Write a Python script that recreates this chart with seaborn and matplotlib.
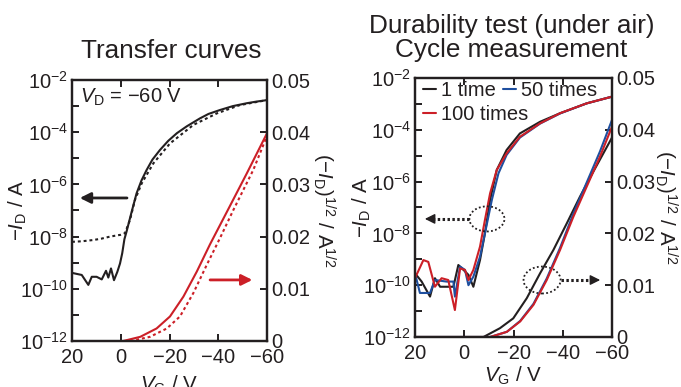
import numpy as np
import pandas as pd
import matplotlib
matplotlib.use("Agg")
import matplotlib.pyplot as plt
import seaborn as sns
from matplotlib.patches import Ellipse

# ---------------- data ----------------
# Left panel: transfer curves, log10(-I_D / A) and (-I_D)^1/2
vg_left_log_solid = [20, 16, 13.3, 11.9, 9.9, 7.8, 6.05, 5.1, 4.0, 2.77, 1.4, 0.3, -0.6, -1.5,
                     -2.4, -4.5, -6.5, -8.5, -10.6, -13, -16.1, -19.5, -23, -27, -32.5, -36,
                     -40.7, -46, -51.7, -55.5, -60]
exp_left_log_solid = [-9.39, -9.47, -9.85, -9.54, -9.54, -9.64, -9.31, -9.57, -9.22, -9.67, -9.35,
                      -9.03, -8.64, -8.1, -7.8, -7.04, -6.34, -5.85, -5.45, -5.05, -4.68, -4.33,
                      -4.04, -3.78, -3.47, -3.3, -3.15, -3.0, -2.89, -2.83, -2.77]
vg_left_log_dot = [20, 16, 11.2, 8, 4.4, 0, -1.7, -3.8, -5.8, -8.6, -13.4, -20.2, -29.8, -39.4,
                   -48.9, -60]
exp_left_log_dot = [-8.2, -8.18, -8.13, -8.08, -8.0, -7.93, -7.87, -7.36, -6.6, -5.96, -5.19,
                    -4.43, -3.72, -3.28, -2.96, -2.77]
vg_left_sqrt_solid = [-1, -8, -14.7, -20.2, -25.7, -31.2, -36.6, -43.5, -51.7, -60]
sqrt_left_solid = [0, 0.0008, 0.0024, 0.0047, 0.0085, 0.0133, 0.0185, 0.0247, 0.0321, 0.0398]
vg_left_sqrt_dot = [-4, -12, -18.9, -24.3, -29.8, -35.3, -40.7, -46.2, -54.4, -60]
sqrt_left_dot = [0, 0.0008, 0.0024, 0.0047, 0.0092, 0.0146, 0.0197, 0.0251, 0.0328, 0.0393]

# Right panel: cycle measurement (1, 50, 100 times)
vg_r1_log = [20, 17.3, 13.9, 11.9, 9.8, 4.4, 2.4, 0.3, -1.7, -3.7, -6.4, -8.4, -10.5, -13.2,
             -17.2, -22.6, -30.8, -38.9, -49.7, -60]
exp_r1_log = [-9.54, -9.86, -10.44, -9.73, -10.06, -10.06, -9.22, -9.41, -9.6, -10.06, -9.03,
              -8.0, -6.71, -5.55, -4.78, -4.14, -3.69, -3.36, -2.98, -2.72]
vg_r50_log = [20, 18, 13.9, 11.9, 7.2, 4.4, 3.8, 1.7, -0.3, -1.7, -3.7, -6.4, -8.4, -11.2, -13.9,
              -17.2, -22.6, -30.8, -38.9, -49.7, -60]
exp_r50_log = [-9.54, -10.3, -10.3, -9.8, -9.86, -9.86, -10.44, -9.28, -9.41, -10.0, -9.67, -8.9,
               -8.0, -6.71, -5.68, -4.97, -4.3, -3.76, -3.37, -2.98, -2.72]
vg_r100_log = [20, 16.6, 14.6, 11.9, 9.2, 6.5, 3.8, 1.7, -0.3, -1.7, -3.7, -6.4, -8.4, -10.5,
               -13.2, -17.2, -22.6, -30.8, -38.9, -49.7, -60]
exp_r100_log = [-9.73, -9.03, -9.1, -10.06, -9.73, -9.8, -10.96, -9.35, -9.41, -9.8, -9.41, -8.51,
                -7.48, -6.45, -5.55, -4.91, -4.27, -3.75, -3.36, -2.98, -2.72]

vg_r1_sqrt = [20, -7.8, -14.5, -19.9, -25.4, -30.8, -36.2, -41.6, -47, -52.4, -60]
sqrt_r1 = [0, 0, 0.0017, 0.0036, 0.0075, 0.0123, 0.0168, 0.0219, 0.0271, 0.0319, 0.0385]
vg_r50_sqrt = [20, -10.5, -17.3, -22.7, -28.1, -33.5, -38.9, -44.3, -49.7, -55.1, -60]
sqrt_r50 = [0, 0, 0.001, 0.0031, 0.0064, 0.0113, 0.0172, 0.0238, 0.0298, 0.0358, 0.0419]
vg_r100_sqrt = [20, -10.5, -17.3, -22.7, -28.1, -33.5, -38.9, -44.3, -49.7, -55.1, -60]
sqrt_r100 = [0, 0, 0.001, 0.003, 0.0062, 0.011, 0.0168, 0.0232, 0.029, 0.0348, 0.0406]

x_ticks = [20, 0, -20, -40, -60]
x_tick_labels = ["20", "0", "\u221220", "\u221240", "\u221260"]
log_exponents = [-12, -11, -10, -9, -8, -7, -6, -5, -4, -3, -2]
sqrt_ticks = [0, 0.01, 0.02, 0.03, 0.04, 0.05]
sqrt_tick_labels = ["0", "0.01", "0.02", "0.03", "0.04", "0.05"]
legend_labels = ["1 time", "50 times", "100 times"]

INK = "#231f20"
RED = "#cc1f27"
BLUE = "#1e4f9f"

# ---------------- style ----------------
sns.set_theme(style="ticks")
plt.rcParams.update({
    "font.family": ["Liberation Sans", "DejaVu Sans"],
    "mathtext.fontset": "custom",
    "mathtext.rm": "Liberation Sans",
    "mathtext.it": "Liberation Sans:italic",
    "mathtext.bf": "Liberation Sans:bold",
    "text.color": INK, "axes.labelcolor": INK,
    "xtick.color": INK, "ytick.color": INK, "axes.edgecolor": INK,
})

TICK_FS = 14.5
LABEL_FS = 14.8
LW = 1.5

fig = plt.figure(figsize=(6.81, 3.87), dpi=100)
W, H = 681, 387


def px_axes(x0, x1, ytop, ybot):
    return fig.add_axes([x0 / W, 1 - ybot / H, (x1 - x0) / W, (ybot - ytop) / H])


def style_axes(ax, ax2):
    ax.set_yscale("log")
    ax.set_xlim(20, -60)
    ax.set_ylim(1e-12, 1e-2)
    ax.set_xticks(x_ticks, x_tick_labels)
    yt = [10.0 ** e for e in log_exponents]
    ylab = [f"$10^{{{e}}}$" if e % 2 == 0 else "" for e in log_exponents]
    ax.set_yticks(yt, ylab)
    ax.yaxis.set_minor_locator(matplotlib.ticker.NullLocator())
    ax.tick_params(axis="both", which="major", direction="in", length=5, width=1.4,
                   labelsize=TICK_FS, pad=3)
    ax.tick_params(axis="x", top=True, pad=5)
    ax2.set_ylim(0, 0.05)
    ax2.set_yticks(sqrt_ticks, sqrt_tick_labels)
    ax2.tick_params(axis="y", direction="in", length=5, width=1.4, labelsize=TICK_FS, pad=3)
    for a in (ax, ax2):
        for s in a.spines.values():
            s.set_linewidth(1.6)
            s.set_color(INK)
    ax.set_ylabel("\u2212$I_\\mathrm{D}$ / A", fontsize=LABEL_FS, va="center")
    ax.set_xlabel("$V_\\mathrm{G}$ / V", fontsize=LABEL_FS, va="center")
    ax2.set_ylabel("(\u2212$I_\\mathrm{D}$)$^{1/2}$ / A$^{1/2}$", fontsize=LABEL_FS,
                   rotation=-90, va="center", ha="center")


def line(ax, x, y, color, ls="-", label=None):
    df = pd.DataFrame({"x": x, "y": y})
    sns.lineplot(data=df, x="x", y="y", ax=ax, color=color, lw=LW, linestyle=ls,
                 label=label, legend=False, sort=False, estimator=None)


DOT = (0, (1.4, 1.4))

# ---------------- left panel ----------------
axL = px_axes(72, 267, 80, 341)
axL2 = axL.twinx()
line(axL, vg_left_log_solid, [10.0 ** e for e in exp_left_log_solid], INK)
line(axL, vg_left_log_dot, [10.0 ** e for e in exp_left_log_dot], INK, DOT)
line(axL2, vg_left_sqrt_solid, sqrt_left_solid, RED)
line(axL2, vg_left_sqrt_dot, sqrt_left_dot, RED, DOT)
style_axes(axL, axL2)
axL.yaxis.set_label_coords((18 - 72) / 195, 0.5)
axL2.yaxis.set_label_coords((324 - 72) / 195, 0.5)
axL.xaxis.set_label_coords(0.5, (341 - 385) / 261)
axL.text(0.04, 0.935, "$V_\\mathrm{D}$ = \u221260 V", transform=axL.transAxes,
         fontsize=TICK_FS, va="center", ha="left")
axL.annotate("", xy=(0.04, 0.548), xytext=(0.282, 0.548), xycoords="axes fraction",
             arrowprops=dict(arrowstyle="-|>", color=INK, lw=2, mutation_scale=16,
                             shrinkA=0, shrinkB=0))
axL.annotate("", xy=(0.925, 0.234), xytext=(0.708, 0.234), xycoords="axes fraction",
             arrowprops=dict(arrowstyle="-|>", color=RED, lw=2, mutation_scale=16,
                             shrinkA=0, shrinkB=0))

# ---------------- right panel ----------------
axR = px_axes(415, 612, 78, 337)
axR2 = axR.twinx()
line(axR, vg_r1_log, [10.0 ** e for e in exp_r1_log], INK, label=legend_labels[0])
line(axR, vg_r50_log, [10.0 ** e for e in exp_r50_log], BLUE, label=legend_labels[1])
line(axR, vg_r100_log, [10.0 ** e for e in exp_r100_log], RED, label=legend_labels[2])
line(axR2, vg_r1_sqrt, sqrt_r1, INK)
line(axR2, vg_r50_sqrt, sqrt_r50, BLUE)
line(axR2, vg_r100_sqrt, sqrt_r100, RED)
style_axes(axR, axR2)
axR.yaxis.set_label_coords((362 - 415) / 197, 0.5)
axR2.yaxis.set_label_coords((666 - 415) / 197, 0.5)
axR.xaxis.set_label_coords(0.5, (337 - 376) / 259)

h = axR.get_lines()
leg_kw = dict(loc="upper left", frameon=False, fontsize=TICK_FS, handlelength=0.65,
              handletextpad=0.25, columnspacing=0.35, labelspacing=0.2,
              borderaxespad=0.2, borderpad=0.2)
leg1 = axR.legend([h[0], h[1]], [legend_labels[0], legend_labels[1]], ncol=2,
                  bbox_to_anchor=(0.0, 1.02), **leg_kw)
axR.add_artist(leg1)
axR.legend([h[2]], [legend_labels[2]], bbox_to_anchor=(0.0, 1.02 - 0.093), **leg_kw)

for (cx, cy, w, hh) in [(0.365, 0.456, 0.178, 0.097), (0.645, 0.22, 0.188, 0.104)]:
    axR.add_patch(Ellipse((cx, cy), w, hh, transform=axR.transAxes, fill=False,
                          edgecolor=INK, lw=1.3, linestyle=(0, (1, 1.3)), zorder=5))

for (x0, x1, y) in [(0.276, 0.05, 0.456), (0.739, 0.94, 0.22)]:
    d = np.sign(x1 - x0)
    axR.plot([x0, x1 - d * 0.03], [y, y], transform=axR.transAxes, color=INK, lw=2.2,
             linestyle=(0, (0.8, 0.8)), solid_capstyle="butt", zorder=5)
    axR.annotate("", xy=(x1, y), xytext=(x1 - d * 0.045, y), xycoords="axes fraction",
                 arrowprops=dict(arrowstyle="-|>", color=INK, lw=1, mutation_scale=15,
                                 shrinkA=0, shrinkB=0))

# ---------------- titles ----------------
fig.text(171 / W, 1 - 58 / H, "Transfer curves", fontsize=18.8, ha="center", va="baseline")
fig.text(512 / W, 1 - 33 / H, "Durability test (under air)", fontsize=18.8, ha="center",
         va="baseline")
fig.text(511 / W, 1 - 57 / H, "Cycle measurement", fontsize=18.8, ha="center", va="baseline")

fig.savefig("out.png", dpi=100)
